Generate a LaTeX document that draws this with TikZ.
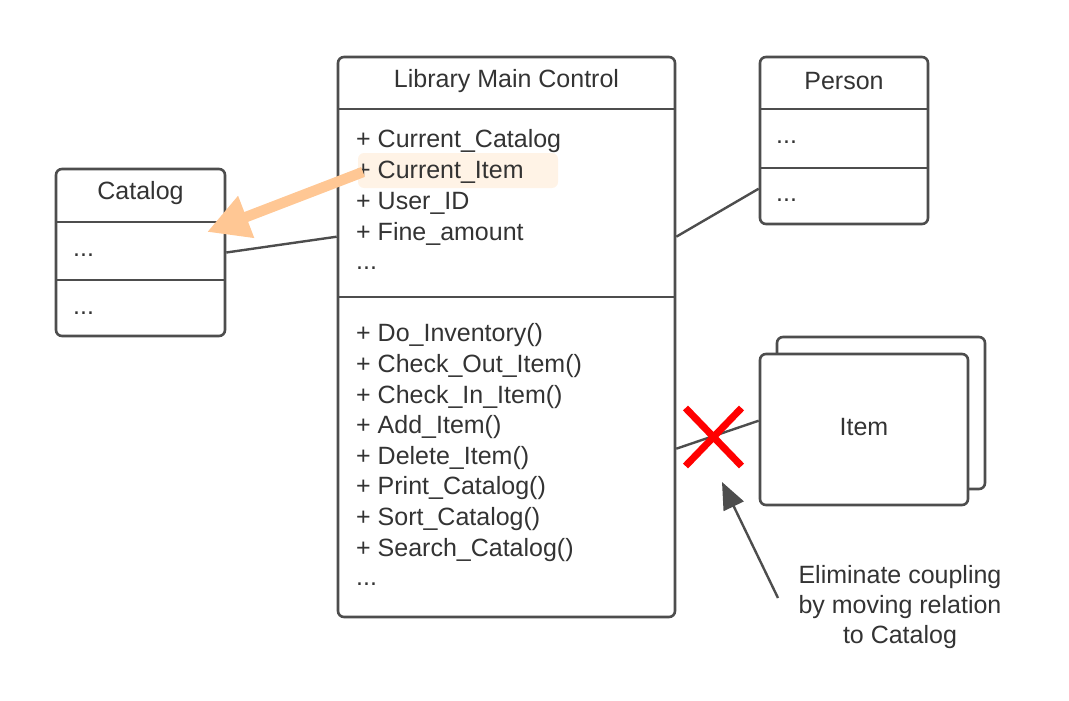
\documentclass[tikz,border=0pt]{standalone}
\usepackage{fontspec}
\setmainfont{Liberation Sans}
\usetikzlibrary{arrows.meta,calc}
\definecolor{ink}{HTML}{4D4D4D}
\definecolor{txt}{HTML}{333333}
\definecolor{orng}{HTML}{FFC794}
\definecolor{hilite}{HTML}{FFF3E6}
\begin{document}
\begin{tikzpicture}[x=1pt,y=-1pt,
  box/.style={draw=ink,line width=2.6pt,rounded corners=6pt,fill=white,inner sep=0pt},
  sep/.style={draw=ink,line width=2.6pt},
  conn/.style={draw=ink,line width=2.4pt},
  lbl/.style={text=txt,font=\fontsize{25}{30}\selectfont,inner sep=0pt},
  mem/.style={lbl,anchor=west},
]
\useasboundingbox (0,0) rectangle (1069,701);
% highlight
\node[fill=hilite,rounded corners=6pt,minimum width=200pt,minimum height=35pt,inner sep=0pt] (hl) at (458,170.5) {};
% main control
\node[box,fill=none,minimum width=337pt,minimum height=560pt] (main) at (506.5,337) {};
\draw[sep] (338,109) -- (675,109);
\draw[sep] (338,297) -- (675,297);
\node[lbl] (mtitle) at (506.5,81.5) {Library Main Control};
\foreach \t [count=\i] in {+ Current\_Catalog,+ Current\_Item,+ User\_ID,+ Fine\_amount}
  \node[mem] (a\i) at (356,{141.5+30.7*(\i-1)}) {\t};
\node[mem] (a5) at (356,268) {.{}.{}.};
\foreach \t [count=\i] in {+ Do\_Inventory(),+ Check\_Out\_Item(),+ Check\_In\_Item(),+ Add\_Item(),+ Delete\_Item(),+ Print\_Catalog(),+ Sort\_Catalog(),+ Search\_Catalog()}
  \node[mem] (m\i) at (356,{335.5+30.6*(\i-1)}) {\t};
\node[mem] (m9) at (356,584) {.{}.{}.};
% person
\node[box,minimum width=168pt,minimum height=167pt] (person) at (844,140.5) {};
\draw[sep] (760,109) -- (928,109);
\draw[sep] (760,168) -- (928,168);
\node[lbl] (ptitle) at (844,81.5) {Person};
\node[mem] (p1) at (776,142) {.{}.{}.};
\node[mem] (p2) at (776,200) {.{}.{}.};
% catalog
\node[box,minimum width=169pt,minimum height=167pt] (cat) at (140.5,252.5) {};
\draw[sep] (56,222) -- (225,222);
\draw[sep] (56,280) -- (225,280);
\node[lbl] (ctitle) at (140.5,193.5) {Catalog};
\node[mem] (c1) at (73,255) {.{}.{}.};
\node[mem] (c2) at (73,313) {.{}.{}.};
% item
\node[box,minimum width=208pt,minimum height=152pt] (itemback) at (881,413) {};
\node[box,minimum width=208pt,minimum height=151pt] (item) at (864,429.5) {};
\node[lbl,yshift=2pt] (itemlbl) at (item) {Item};
% connectors
\draw[conn] (cat.east) -- ([yshift=-181pt]main.north west);
\draw[conn] ([yshift=-133pt]person.north west) -- ([yshift=-181pt]main.north east);
\draw[conn] ([yshift=-68pt]item.north west) -- ([yshift=-393pt]main.north east);
% red cross
\coordinate (xc) at (713.5,437);
\draw[red,line width=7pt] ($(xc)+(-28,-29)$) -- ($(xc)+(28,29)$);
\draw[red,line width=7pt] ($(xc)+(28,-29)$) -- ($(xc)+(-28,29)$);
% note
\node[lbl,align=center] (note) at (900,607) {Eliminate coupling\\by moving relation\\to Catalog};
\coordinate (ntail) at (778,598);
\coordinate (ntip) at (722,482);
\draw[conn,-{Triangle[length=27pt,width=22pt]}] (ntail) -- (ntip);
% orange arrow
\coordinate (otail) at (363,172);
\coordinate (otip) at (207,232);
\draw[orng,line width=10.5pt,-{Triangle[length=42pt,width=42pt]}] (otail) -- (otip);
\end{tikzpicture}
\end{document}
